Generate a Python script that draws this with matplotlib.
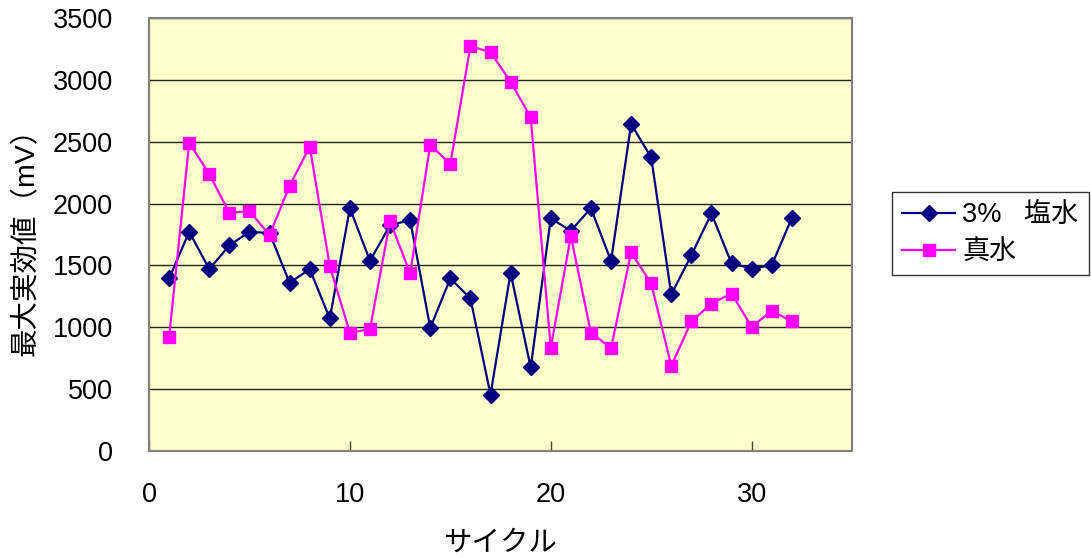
import matplotlib
matplotlib.use("Agg")
import matplotlib.pyplot as plt
from matplotlib.ticker import MultipleLocator

plt.rcParams['font.family'] = ['Liberation Sans', 'Noto Sans CJK JP', 'DejaVu Sans']

cycles = list(range(1, 33))
salt_water = [1395, 1772, 1470, 1662, 1772, 1762, 1359, 1470, 1071, 1963,
              1537, 1826, 1866, 995, 1395, 1233, 456, 1440, 675, 1880,
              1780, 1963, 1535, 2643, 2373, 1265, 1583, 1920, 1516, 1475,
              1502, 1883]
pure_water = [922, 2492, 2238, 1925, 1939, 1745, 2144, 2460, 1494, 955,
              985, 1858, 1435, 2476, 2319, 3274, 3223, 2985, 2697, 833,
              1737, 955, 831, 1605, 1354, 688, 1047, 1192, 1273, 1003,
              1133, 1047]

salt_label = "3%   塩水"
pure_label = "真水"
x_label = "サイクル"
y_label = "最大実効値（mV）"

fig = plt.figure(figsize=(10.91, 5.58), dpi=100)
ax = fig.add_axes([0.1366, 0.1918, 0.6444, 0.7759])
ax.set_facecolor('#FFFFCC')

ax.plot(cycles, salt_water, color='#000080', lw=1.6, marker='D', ms=8,
        mfc='#000080', mec='#000080', label=salt_label, zorder=3)
ax.plot(cycles, pure_water, color='#FF00FF', lw=1.6, marker='s', ms=8.5,
        mfc='#FF00FF', mec='#FF00FF', label=pure_label, zorder=3)

ax.set_xlim(0, 35)
ax.set_ylim(0, 3500)
ax.xaxis.set_major_locator(MultipleLocator(10))
ax.yaxis.set_major_locator(MultipleLocator(500))
ax.yaxis.grid(True, color='#222222', lw=1.0)
ax.set_axisbelow(True)

for s in ax.spines.values():
    s.set_color('#808080')
    s.set_linewidth(1.5)

ax.tick_params(axis='x', direction='in', length=7, width=1, color='#444444',
               labelsize=19.5, pad=22)
ax.tick_params(axis='y', direction='in', length=0, labelsize=19.5, pad=26)

ax.set_xlabel(x_label, fontsize=20.5, labelpad=17)
ax.set_ylabel(y_label, fontsize=20.5, labelpad=9)

leg = ax.legend(loc='center left', bbox_to_anchor=(1.057, 0.502), fontsize=19.5,
                frameon=True, fancybox=False, edgecolor='black',
                handlelength=1.95, borderpad=0.38, labelspacing=0.4,
                handletextpad=0.25, borderaxespad=0)
leg.get_frame().set_linewidth(1.0)

fig.savefig('out.png', dpi=100)
